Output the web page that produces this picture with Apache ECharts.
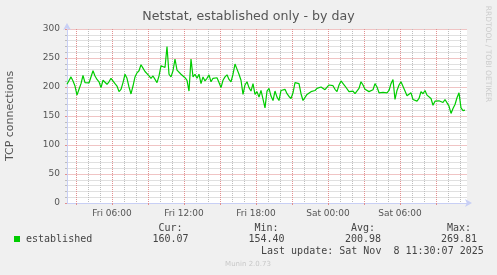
<!DOCTYPE html>
<html><head><meta charset="utf-8">
<script src="https://cdn.jsdelivr.net/npm/echarts@6/dist/echarts.min.js"></script>
<style>html,body{margin:0;padding:0;background:#f0f0f0;}#c{width:497px;height:275px;}</style>
</head><body><div id="c"></div>
<script>
// ---- data ----
const chartTitle = 'Netstat, established only - by day';
const yAxisName = 'TCP connections';
const seriesName = 'established';
const startMinute = 2 * 60 + 15;      // Fri 02:15 (axis start)
const categoryStepMinutes = 5;        // one category per 5 min
const categoryCount = 401;            // Fri 02:15 .. Sat 11:35
const valueStepCategories = 2;        // one sample every 10 min
const dayNames = ['Fri', 'Sat'];
const established = [
  204.7,207.6,217.4,210.5,201.7,186,196,205.8,219.8,207.6,
  208,207,205.8,228,219,213,209,199,211.6,213,
  204.7,209,215,211.6,205.8,201.7,192,196,207.6,222,
  215,200,188,201.7,217.4,224.4,228,238.4,232.6,226.7,
  223,219,215,219,216,207.6,219,236.6,233.7,
  233.7,269.81,222,217.4,228,248.3,229,228,222,224.4,
  216,211.6,193,248.3,217.4,222,215,222,205.8,217.4,
  210.5,215,221,209,215,217.4,216,207.6,199,211.6,
  217.4,221,213,209,222,239.5,230.8,222,211.6,187.2,
  203.5,209,199,193,205.8,187.2,192,182.6,194,193,
  164,193,197.7,184.3,176.7,193,182.6,176.7,194,193,
  196,188.4,183.7,180.2,190,207.6,209,205.8,188.4,176.7,
  176.7,187.2,189.5,192,190,194,197.7,199,200,199,
  195.3,197.7,203.5,202.3,202.3,196,192,203.5,210.5,209,
  201.7,201,192,193,193,188.4,188.4,197.7,209,203.5,
  196,197.7,192,193,195.3,205.8,200,190,190,190.7,
  194,190,194,205.8,212.8,178.5,194,203.5,209,210.5,
  193,185,182.6,190,178.5,178.5,175.6,180.2,192,188.4,
  194,186,186,180.2,168.6,175.6,178,176.2,175.6,173.3,
  178.5,180.2,167,154.4,162.8,169.8,181.4,190,164,159.3,
  160.07
];
const yMin = 0, yMax = 300, yInterval = 50, yMinorSplit = 5;
const statLabels = ['Cur:', 'Min:', 'Avg:', 'Max:'];
const statValues = ['160.07', '154.40', '200.98', '269.81'];
const lastUpdate = 'Last update: Sat Nov  8 11:30:07 2025';
const versionText = 'Munin 2.0.73';
const watermark = 'RRDTOOL / TOBI OETIKER';

// ---- build ----
function minuteOf(i) { return startMinute + i * categoryStepMinutes; }
function pad(n) { return (n < 10 ? '0' : '') + n; }
const categories = [];
for (let i = 0; i < categoryCount; i++) {
  const t = minuteOf(i);
  const d = dayNames[Math.floor(t / 1440)];
  const m = t % 1440;
  categories.push(d + ' ' + pad(Math.floor(m / 60)) + ':' + pad(m % 60));
}
const seriesData = established.map((v, i) => [i * valueStepCategories, v]);
const isLabel = (i) => minuteOf(i) % 360 === 0;
const isMajor = (i) => minuteOf(i) % 180 === 0;
const isMinor = (i) => minuteOf(i) % 60 === 0 && minuteOf(i) % 180 !== 0;

const FONT = 'DejaVu Sans';
const MONO = 'DejaVu Sans Mono';
const AXIS = '#c8cff5';
const MGRID = '#e29090';
const GRID = '#bdbdbd';
const MGRID_H = '#f0c4c4';
const GRID_H = '#e0e0e0';
const GRID_BOX = { left: 67, right: 30, top: 29, bottom: 72 };

const chart = echarts.init(document.getElementById('c'), null, { renderer: 'canvas' });
const statX = [170.5, 266.5, 363, 459];
const graphics = [
  { type: 'rect', shape: { x: 14, y: 236, width: 6, height: 6 }, style: { fill: '#00cc00' } },
  { type: 'text', x: 26, y: 239, style: { text: seriesName, font: '10px ' + MONO, fill: '#444', verticalAlign: 'middle' } },
  { type: 'text', x: 261, y: 251, style: { text: lastUpdate, font: '10px ' + MONO, fill: '#444', verticalAlign: 'middle' } },
  { type: 'text', x: 248, y: 264, style: { text: versionText, font: '7px ' + FONT, fill: '#c8c8c8', align: 'center', verticalAlign: 'middle' } },
  { type: 'text', x: 488, y: 54, rotation: -Math.PI / 2, style: { text: watermark, font: '7.5px ' + FONT, fill: '#cccccc', align: 'center', verticalAlign: 'middle' } }
];
statLabels.forEach((s, k) => {
  graphics.push({ type: 'text', x: statX[k], y: 228, style: { text: s, font: '10px ' + MONO, fill: '#444', align: 'center', verticalAlign: 'middle' } });
  graphics.push({ type: 'text', x: statX[k], y: 239, style: { text: statValues[k], font: '10px ' + MONO, fill: '#444', align: 'center', verticalAlign: 'middle' } });
});

chart.setOption({
  backgroundColor: '#f0f0f0',
  animation: false,
  title: {
    text: chartTitle, left: 'center', top: 10, padding: 0,
    textStyle: { fontFamily: FONT, fontSize: 12.6, fontWeight: 'normal', color: '#555' }
  },
  grid: Object.assign({ show: true, backgroundColor: '#ffffff', borderWidth: 0, outerBoundsMode: 'none' }, GRID_BOX),
  xAxis: [
    {
      type: 'category', data: categories, boundaryGap: false,
      axisLine: { show: false }, axisTick: { show: false }, axisLabel: { show: false },
      splitLine: { show: true, interval: (i) => isMinor(i), lineStyle: { color: GRID, type: [1, 1], width: 1 } }
    },
    {
      type: 'category', data: categories, boundaryGap: false, position: 'bottom',
      axisLine: { show: true, lineStyle: { color: AXIS, width: 1 }, symbol: ['none', 'arrow'], symbolSize: [6, 7], symbolOffset: [0, 5] },
      axisTick: { show: true, interval: (i) => isMajor(i), length: 2, lineStyle: { color: MGRID } },
      axisLabel: { show: true, interval: (i) => isLabel(i), margin: 6, fontFamily: FONT, fontSize: 9, color: '#555' },
      splitLine: { show: true, interval: (i) => isMajor(i), lineStyle: { color: MGRID, type: [1, 1], width: 1 } }
    }
  ],
  yAxis: [{
    type: 'value', min: yMin, max: yMax, interval: yInterval,
    name: yAxisName, nameLocation: 'middle', nameRotate: 90, nameGap: 51,
    nameTextStyle: { fontFamily: FONT, fontSize: 11, color: '#555' },
    axisLine: { show: true, lineStyle: { color: AXIS, width: 1 }, symbol: ['none', 'arrow'], symbolSize: [6, 7], symbolOffset: [0, 6] },
    axisTick: { show: true, length: 2, lineStyle: { color: MGRID } },
    minorTick: { show: true, splitNumber: yMinorSplit, length: 2, lineStyle: { color: GRID } },
    axisLabel: { margin: 7, fontFamily: FONT, fontSize: 9, color: '#555' },
    splitLine: { show: true, lineStyle: { color: MGRID_H, type: 'solid', width: 1 } },
    minorSplitLine: { show: true, lineStyle: { color: GRID_H, type: 'solid', width: 1 } }
  }],
  series: [{
    name: seriesName, type: 'line', xAxisIndex: 1, yAxisIndex: 0, data: seriesData, z: 5,
    showSymbol: false, symbol: 'none', smooth: false,
    lineStyle: { color: '#00cc00', width: 1.2 }, itemStyle: { color: '#00cc00' }
  }],
  graphic: graphics
});
</script>
</body></html>
